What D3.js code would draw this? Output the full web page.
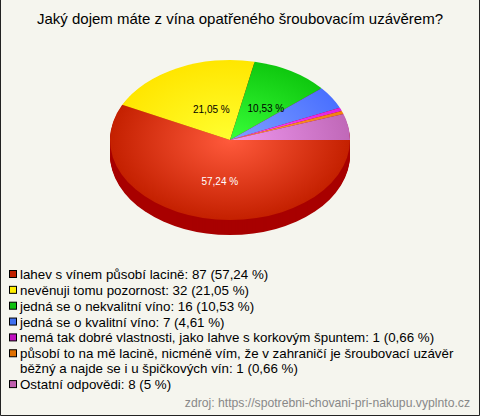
<!DOCTYPE html>
<html><head><meta charset="utf-8">
<script src="https://cdn.jsdelivr.net/npm/d3@7"></script>
<style>html,body{margin:0;padding:0;background:#fff}svg{display:block}text{font-family:"Liberation Sans",Arial,sans-serif}</style>
</head><body><div id="c"></div>
<script>
const title = "Jaký dojem máte z vína opatřeného šroubovacím uzávěrem?";
const counts = [87, 32, 16, 7, 1, 1, 8];
const percents = ["57,24 %", "21,05 %", "10,53 %", "4,61 %", "0,66 %", "0,66 %", "5 %"];
const legendLines = [
  ["lahev s vínem působí lacině: 87 (57,24 %)"],
  ["nevěnuji tomu pozornost: 32 (21,05 %)"],
  ["jedná se o nekvalitní víno: 16 (10,53 %)"],
  ["jedná se o kvalitní víno: 7 (4,61 %)"],
  ["nemá tak dobré vlastnosti, jako lahve s korkovým špuntem: 1 (0,66 %)"],
  ["působí to na mě lacině, nicméně vím, že v zahraničí je šroubovací uzávěr","běžný a najde se i u špičkových vín: 1 (0,66 %)"],
  ["Ostatní odpovědi: 8 (5 %)"]
];
const edgeColors = ["#c42000", "#ffe600", "#0fc80f", "#4a70ff", "#e020e0", "#f08010", "#c068b8"];
const coreColors = ["#ff5a3c", "#ffff30", "#38ff38", "#80a0ff", "#ff50ff", "#ffa040", "#f098f0"];
const swatchColors = ["#c02000", "#ffee00", "#10c010", "#4070f0", "#c010c0", "#e07000", "#c060b0"];
const sideColor = "#a80000";
const source = "zdroj: https://spotrebni-chovani-pri-nakupu.vyplnto.cz";

const W = 480, H = 416, cx = 230, cy = 140, rx = 120, ry = 80, depth = 15;
const svg = d3.select("#c").append("svg").attr("width", W).attr("height", H);
svg.append("rect").attr("width",W).attr("height",H).attr("fill","#f5f5ee");
svg.append("path").attr("d",`M0.5,0V${H-0.5}H${W-0.5}V0`).attr("fill","none").attr("stroke","#222").attr("stroke-width",1);
svg.append("text").attr("x",240).attr("y",24).attr("text-anchor","middle").attr("font-size",15).attr("fill","#000").text(title);

const defs = svg.append("defs");
edgeColors.forEach((c,i)=>{
  const g = defs.append("radialGradient").attr("id","g"+i).attr("gradientUnits","userSpaceOnUse")
    .attr("cx",0).attr("cy",0).attr("r",rx);
  g.append("stop").attr("offset",0).attr("stop-color",coreColors[i]);
  g.append("stop").attr("offset",1).attr("stop-color",c);
});
const pie = d3.pie().sort(null).startAngle(Math.PI/2).endAngle(Math.PI/2+2*Math.PI);
const arcs = pie(counts);
const arc = d3.arc().innerRadius(0).outerRadius(rx);
const sy = ry/rx;
const side = svg.append("g");
for (let d=depth; d>=1; d--) {
  side.append("ellipse").attr("cx",cx).attr("cy",cy+d).attr("rx",rx).attr("ry",ry).attr("fill",sideColor);
}
const pieG = svg.append("g").attr("transform",`translate(${cx},${cy}) scale(1,${sy})`);
pieG.selectAll("path").data(arcs).join("path").attr("d",arc).attr("fill",(d,i)=>`url(#g${i})`);

const labelRadius = [0.525, 0.43, 0.47];
const labelColor = ["#fff","#000","#000"];
const labelShift = [4, 4, 7];
arcs.slice(0,3).forEach((a,i)=>{
  const m = (a.startAngle+a.endAngle)/2 - Math.PI/2;
  svg.append("text")
    .attr("x",cx+Math.cos(m)*rx*labelRadius[i]+labelShift[i])
    .attr("y",cy+Math.sin(m)*ry*labelRadius[i]+4)
    .attr("text-anchor","middle").attr("font-size",10).attr("fill",labelColor[i]).text(percents[i]);
});

let y = 274.5;
legendLines.forEach((lines,i)=>{
  svg.append("rect").attr("x",9.5).attr("y",y-4).attr("width",7).attr("height",7)
    .attr("fill",swatchColors[i]).attr("stroke","#000").attr("stroke-width",1);
  lines.forEach((t,j)=>{
    svg.append("text").attr("x",20).attr("y",y+4.5+j*15).attr("font-size",13.33).attr("fill","#000").text(t);
  });
  y += 15.85 + (lines.length-1)*15;
});
svg.append("text").attr("x",470).attr("y",407).attr("text-anchor","end").attr("font-size",12.2).attr("fill","#888").text(source);
</script></body></html>
